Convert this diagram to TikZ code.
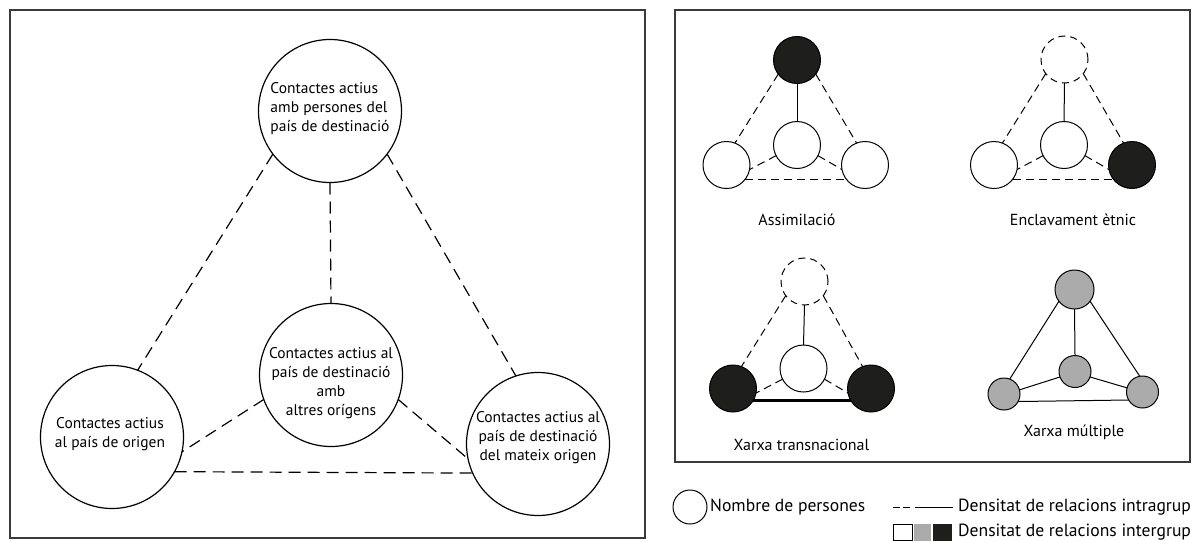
\documentclass[tikz,border=0pt]{standalone}
\usepackage{fontspec}
\setmainfont{PT Sans}
\definecolor{framegray}{HTML}{3A3A3A}
\definecolor{inkblack}{HTML}{1E1E1C}
\definecolor{midgray}{HTML}{ABABAB}
\begin{document}
\begin{tikzpicture}[x=1pt,y=-1pt,
  frame/.style={draw=framegray, line width=1.4pt},
  bigcirc/.style={circle, draw, line width=1.2pt, minimum size=143pt, inner sep=0pt, outer sep=0pt},
  bigtxt/.style={font=\fontsize{15.5}{19}\selectfont, inner sep=0pt},
  bigdash/.style={line width=1.2pt, dash pattern=on 12pt off 7pt},
  pnode/.style={circle, draw, line width=1pt, minimum size=47pt, inner sep=0pt, outer sep=0pt, fill=white},
  pblack/.style={pnode, fill=inkblack},
  pghost/.style={pnode, dash pattern=on 7pt off 5pt},
  gnode/.style={circle, draw, line width=1pt, minimum size=32pt, inner sep=0pt, outer sep=0pt, fill=midgray},
  smalldash/.style={line width=1pt, dash pattern=on 8pt off 5pt},
  solidlink/.style={line width=1pt},
  boldlink/.style={line width=3.5pt},
  caption/.style={font=\fontsize{16}{19}\selectfont, inner sep=0pt},
  legendtxt/.style={font=\fontsize{17.6}{20}\selectfont, inner sep=0pt, anchor=west}
]
\useasboundingbox (0,0) rectangle (1198,541);

% ---- left panel: the four kinds of contacts ----
\draw[frame] (10,10) rectangle (645,538);

\node[bigcirc] (top) at (330,111) {};
\node[bigcirc] (mid) at (331,375) {};
\node[bigcirc] (lft) at (112,437) {};
\node[bigcirc] (rgt) at (538,444) {};

\node[bigtxt, align=left] (toptxt) at (330,109) {Contactes actius\\amb persones del\\país de destinació};
\node[bigtxt, align=center] (midtxt) at (331,383) {Contactes actius al\\país de destinació\\amb\\altres orígens};
\node[bigtxt, align=center] (lfttxt) at (110,434) {Contactes actius\\al país de origen};
\node[bigtxt, align=center] (rgttxt) at (538,438) {Contactes actius al\\país de destinació\\del mateix origen};

\draw[bigdash] (top.217) -- (lft.69);
\draw[bigdash] (top.323) -- (rgt.108);
\draw[bigdash] (top.south) -- (mid.north);
\draw[bigdash] (mid.200) -- (lft.348);
\draw[bigdash] (mid.340) -- (rgt.192);
\draw[bigdash] (lft.-29) -- (rgt.204);

% ---- right panel: four network types ----
\draw[frame] (675,10) rectangle (1190,462);

% Assimilacio
\node[pblack] (aT) at (797,60) {};
\node[pnode]  (aM) at (797,145) {};
\node[pnode]  (aL) at (726.5,165) {};
\node[pnode]  (aR) at (865,165) {};
\draw[solidlink] (aT.south) -- (aM.north);
\draw[smalldash] (aT.217) -- (aL.69);
\draw[smalldash] (aT.323) -- (aR.111);
\draw[smalldash] (aM.207) -- (aL.349);
\draw[smalldash] (aM.333) -- (aR.191);
\draw[smalldash] (aL.-37) -- (aR.217);
\node[caption] (aCap) at (797,220) {Assimilació};

% Enclavament etnic
\node[pghost] (eT) at (1064.5,59.5) {};
\node[pnode]  (eM) at (1064,145) {};
\node[pnode]  (eL) at (994,165) {};
\node[pblack] (eR) at (1132,165) {};
\draw[solidlink] (eT.south) -- (eM.north);
\draw[smalldash] (eT.217) -- (eL.69);
\draw[smalldash] (eT.323) -- (eR.111);
\draw[smalldash] (eM.207) -- (eL.349);
\draw[smalldash] (eM.333) -- (eR.191);
\draw[smalldash] (eL.-37) -- (eR.217);
\node[caption] (eCap) at (1073,220) {Enclavament ètnic};

% Xarxa transnacional
\node[pghost] (tT) at (804.5,281.5) {};
\node[pnode]  (tM) at (803.5,368.5) {};
\node[pblack] (tL) at (733,388.5) {};
\node[pblack] (tR) at (871,388.5) {};
\draw[solidlink] (tT.south) -- (tM.north);
\draw[smalldash] (tT.217) -- (tL.69);
\draw[smalldash] (tT.323) -- (tR.111);
\draw[smalldash] (tM.207) -- (tL.349);
\draw[smalldash] (tM.333) -- (tR.191);
\draw[boldlink] (tL.-31) -- (tR.211);
\node[caption] (tCap) at (801.5,445) {Xarxa transnacional};

% Xarxa multiple
\node[gnode, minimum size=39pt] (mT) at (1074.5,289.5) {};
\node[gnode] (mM) at (1075,371.5) {};
\node[gnode] (mL) at (1004,394) {};
\node[gnode] (mR) at (1142.5,392) {};
\draw[solidlink] (mT.south) -- (mM.north);
\draw[solidlink] (mT.217) -- (mL.69);
\draw[solidlink] (mT.323) -- (mR.100);
\draw[solidlink] (mM.200) -- (mL.15);
\draw[solidlink] (mM.340) -- (mR.165);
\draw[solidlink] (mL.-28) -- (mR.210);
\node[caption] (mCap) at (1074,432) {Xarxa múltiple};

% ---- legend ----
\node[circle, draw, line width=1pt, minimum size=34pt, inner sep=0pt] (keyCirc) at (690,507) {};
\node[legendtxt] (keyCircTxt) at (710,507) {Nombre de persones};

\coordinate (kd0) at (893,507);
\coordinate (kd1) at (910,507);
\coordinate (ks0) at (915,507);
\coordinate (ks1) at (953,507);
\draw[line width=1pt, dash pattern=on 7pt off 3pt] (kd0) -- (kd1);
\draw[line width=1pt] (ks0) -- (ks1);
\node[legendtxt] (keyLineTxt) at (958,507) {Densitat de relacions intragrup};

\fill[white] (893,524) rectangle (912,541);
\fill[midgray] (914,524) rectangle (931,541);
\fill[inkblack] (933,524) rectangle (952,541);
\draw[line width=1pt] (893.5,524.5) rectangle (912,540.5);
\node[legendtxt] (keySqTxt) at (958,532) {Densitat de relacions intergrup};
\end{tikzpicture}
\end{document}
